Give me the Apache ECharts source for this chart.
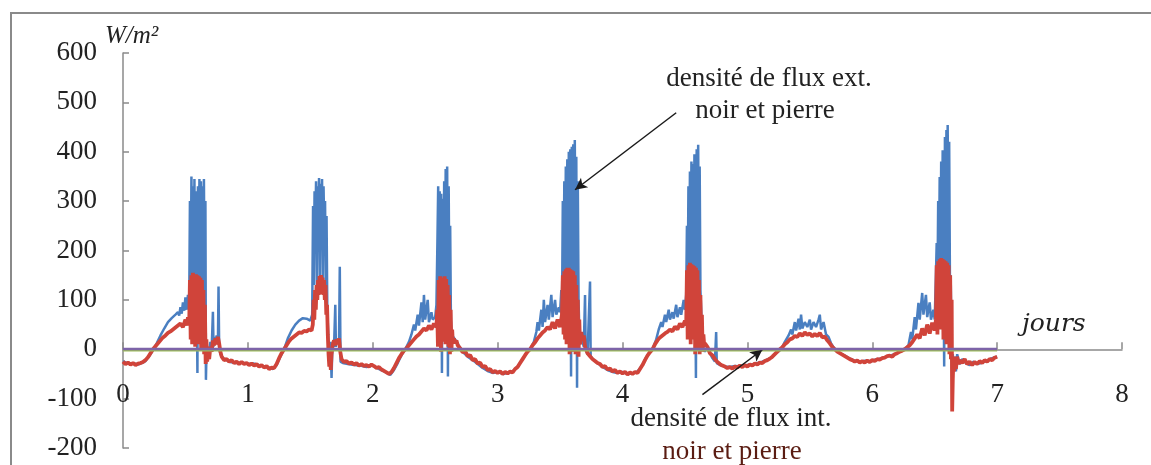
<!DOCTYPE html>
<html>
<head>
<meta charset="utf-8">
<script src="https://cdn.jsdelivr.net/npm/echarts@6/dist/echarts.min.js"></script>
<style>
html,body{margin:0;padding:0;background:#fff;}
#c{width:1151px;height:465px;}
</style>
</head>
<body>
<div id="c"></div>
<script>
// Axis ranges / ticks
const xTicks = [0, 1, 2, 3, 4, 5, 6, 7, 8];
const yTicks = [-200, -100, 0, 100, 200, 300, 400, 500, 600];

// External flux density (blue) [day, W/m²]
const extFlux = [
[0,-24],[0.03,-28],[0.06,-30],[0.09,-29],[0.12,-31],[0.15,-28],[0.18,-24],[0.21,-14],[0.24,-2],[0.27,12],[0.30,28],[0.33,42],[0.36,55],[0.39,63],[0.42,70],[0.44,75],[0.45,68],[0.46,85],[0.47,72],[0.48,95],[0.49,78],[0.50,105],[0.51,80],[0.52,110],[0.53,85],
[0.536,300],[0.542,110],[0.548,350],[0.554,120],[0.560,330],[0.566,100],[0.572,345],[0.578,60],[0.584,320],[0.590,130],[0.596,-48],[0.600,330],[0.606,120],[0.612,345],[0.618,140],[0.624,340],[0.630,110],[0.636,330],[0.642,100],[0.648,345],[0.654,80],[0.660,300],[0.664,-62],[0.670,10],[0.68,-20],[0.69,-5],[0.70,15],[0.71,0],[0.72,76],[0.725,5],[0.73,25],[0.74,15],[0.75,28],[0.76,10],[0.765,127],[0.77,5],[0.78,-10],[0.80,-18],[0.83,-22],[0.86,-26],[0.90,-28],[0.95,-27],[1.00,-30],[1.05,-29],[1.10,-33],[1.15,-36],[1.20,-40],[1.23,-32],[1.26,-15],[1.29,0],
[1.32,22],[1.35,38],[1.38,50],[1.41,58],[1.44,63],[1.47,62],[1.50,58],[1.515,70],
[1.522,290],[1.528,130],[1.534,320],[1.540,240],[1.546,340],[1.552,130],[1.558,330],[1.564,245],[1.570,347],[1.576,135],[1.582,335],[1.588,240],[1.594,345],[1.600,140],[1.606,330],[1.612,230],[1.618,300],[1.624,120],[1.630,270],[1.636,80],[1.642,40],[1.648,-5],[1.655,-30],[1.662,15],[1.67,-58],[1.675,-10],[1.68,10],[1.69,5],[1.70,90],[1.705,5],[1.71,20],[1.72,12],[1.73,18],[1.736,167],[1.742,-25],[1.76,-28],[1.80,-30],[1.85,-32],[1.90,-33],[1.95,-36],[2.00,-33],[2.05,-40],[2.10,-46],[2.14,-52],[2.17,-42],[2.20,-28],[2.23,-12],[2.26,0],
[2.29,15],[2.31,30],[2.33,50],[2.34,38],[2.36,70],[2.37,48],[2.39,95],[2.40,55],[2.41,110],[2.42,60],[2.44,100],[2.45,55],[2.47,75],[2.48,60],[2.50,65],[2.51,90],
[2.518,220],[2.524,330],[2.530,100],[2.536,320],[2.542,110],[2.548,315],[2.554,-48],[2.560,305],[2.566,120],[2.572,340],[2.578,100],[2.584,365],[2.590,130],[2.596,370],[2.602,-55],[2.608,330],[2.614,100],[2.620,250],[2.626,60],[2.632,30],[2.638,20],[2.645,25],[2.66,22],[2.68,12],[2.70,2],[2.73,-8],[2.76,-15],[2.80,-22],[2.84,-30],[2.88,-38],[2.92,-44],[2.96,-48],[3.00,-46],[3.04,-50],[3.08,-48],[3.12,-45],[3.16,-35],[3.20,-20],[3.23,-8],[3.26,0],
[3.29,15],[3.31,35],[3.32,55],[3.33,38],[3.35,80],[3.36,45],[3.37,100],[3.38,55],[3.40,90],[3.41,60],[3.43,110],[3.44,65],[3.46,100],[3.47,70],[3.49,85],[3.50,75],[3.51,120],[3.515,60],
[3.522,300],[3.528,120],[3.534,340],[3.540,130],[3.546,370],[3.552,140],[3.558,385],[3.564,130],[3.570,400],[3.576,150],[3.582,405],[3.588,-55],[3.594,410],[3.600,140],[3.606,415],[3.612,150],[3.618,424],[3.624,140],[3.630,390],[3.636,-78],[3.642,340],[3.648,100],[3.654,40],[3.66,10],[3.67,30],[3.68,15],[3.69,5],[3.70,110],[3.705,0],[3.72,-10],[3.74,137],[3.745,-15],[3.77,-22],[3.80,-28],[3.84,-36],[3.88,-42],[3.92,-46],[3.96,-48],[4.00,-46],[4.04,-50],[4.08,-49],[4.12,-45],[4.16,-32],[4.19,-16],[4.22,-5],[4.24,0],
[4.27,20],[4.29,40],[4.31,55],[4.32,45],[4.34,70],[4.35,55],[4.37,80],[4.38,60],[4.40,75],[4.41,62],[4.43,90],[4.44,65],[4.46,85],[4.47,70],[4.49,100],[4.50,80],[4.51,110],
[4.516,250],[4.522,120],[4.528,330],[4.534,140],[4.540,360],[4.546,150],[4.552,380],[4.558,140],[4.564,375],[4.570,160],[4.576,395],[4.582,150],[4.588,-58],[4.594,405],[4.600,150],[4.606,414],[4.612,140],[4.618,370],[4.624,120],[4.630,120],[4.636,40],[4.642,10],[4.65,0],[4.66,-5],[4.68,5],[4.70,-8],[4.72,-18],[4.74,-25],[4.75,35],[4.755,-28],[4.78,-32],[4.82,-35],[4.86,-36],[4.90,-34],[4.95,-35],[5.00,-32],[5.05,-30],[5.10,-27],[5.15,-22],[5.20,-16],[5.24,-6],[5.27,0],
[5.30,15],[5.33,28],[5.35,40],[5.36,30],[5.38,55],[5.39,38],[5.41,62],[5.42,40],[5.43,70],[5.44,42],[5.46,55],[5.48,45],[5.50,60],[5.51,40],[5.53,55],[5.55,45],[5.57,60],[5.58,70],[5.59,40],[5.61,55],[5.63,30],[5.65,25],[5.67,12],[5.70,0],[5.74,-8],[5.78,-13],[5.82,-19],[5.86,-23],[5.90,-26],[5.94,-23],[5.98,-26],[6.02,-21],[6.06,-19],[6.10,-16],[6.14,-13],[6.18,-10],[6.22,-5],[6.26,0],
[6.29,8],[6.31,35],[6.32,20],[6.34,65],[6.35,40],[6.37,94],[6.38,60],[6.40,114],[6.41,70],[6.43,110],[6.44,65],[6.46,95],[6.47,60],[6.49,80],[6.50,60],[6.51,150],
[6.516,215],[6.522,120],[6.528,300],[6.534,150],[6.540,349],[6.546,160],[6.552,380],[6.558,150],[6.564,403],[6.570,170],[6.576,-35],[6.582,430],[6.588,160],[6.594,444],[6.600,170],[6.604,454],[6.610,150],[6.616,420],[6.622,140],[6.628,150],[6.634,20],[6.64,-60],[6.645,-10],[6.65,-35],[6.66,-15],[6.67,-45],[6.68,-10],[6.70,-30],[6.72,-20],[6.75,-28],[6.78,-32],[6.81,-25],[6.84,-30],[6.87,-28],[6.90,-25],[6.93,-22],[6.96,-18],[7.00,-15]
];

// Internal flux density (red) [day, W/m²]
const intFlux = [
[0,-25],[0.02,-30],[0.04,-27],[0.06,-31],[0.08,-28],[0.10,-32],[0.12,-29],[0.14,-28],[0.16,-26],[0.18,-22],[0.20,-16],[0.22,-8],[0.24,0],[0.26,6],[0.28,12],[0.30,18],[0.32,24],[0.34,28],[0.36,33],[0.38,36],[0.40,40],[0.42,44],[0.44,48],[0.46,52],[0.48,45],[0.50,60],[0.51,48],[0.52,65],[0.53,50],
[0.536,140],[0.542,20],[0.548,150],[0.554,10],[0.560,155],[0.566,30],[0.572,148],[0.578,5],[0.584,152],[0.590,20],[0.596,150],[0.602,10],[0.608,148],[0.614,25],[0.620,145],[0.626,0],[0.632,140],[0.638,15],[0.644,120],[0.650,-10],[0.656,90],[0.662,-30],[0.668,20],[0.674,-25],[0.68,-10],[0.69,-20],[0.70,5],[0.71,-5],[0.72,18],[0.73,8],[0.74,22],[0.75,10],[0.76,25],[0.77,12],[0.78,-5],[0.79,-15],[0.81,-22],[0.83,-20],[0.85,-25],[0.87,-22],[0.89,-28],[0.91,-25],[0.93,-30],[0.95,-26],[0.97,-30],[0.99,-28],[1.01,-32],[1.03,-29],[1.05,-33],[1.07,-30],[1.09,-35],[1.11,-32],[1.13,-37],[1.15,-34],[1.17,-40],[1.19,-37],[1.21,-38],[1.23,-30],[1.25,-18],[1.27,-8],[1.29,0],
[1.31,8],[1.33,16],[1.35,22],[1.37,26],[1.39,30],[1.41,34],[1.43,33],[1.45,37],[1.47,36],[1.49,40],[1.51,38],[1.52,50],
[1.526,100],[1.532,60],[1.538,120],[1.544,80],[1.550,130],[1.556,100],[1.562,140],[1.568,110],[1.574,148],[1.580,112],[1.586,150],[1.592,115],[1.598,145],[1.604,110],[1.610,140],[1.616,100],[1.622,130],[1.628,70],[1.634,90],[1.640,30],[1.646,-10],[1.652,-35],[1.658,-15],[1.664,-42],[1.67,-10],[1.68,10],[1.69,18],[1.70,8],[1.71,20],[1.72,10],[1.73,22],[1.74,-5],[1.75,-20],[1.77,-26],[1.79,-24],[1.81,-29],[1.83,-27],[1.85,-31],[1.87,-28],[1.89,-33],[1.91,-30],[1.93,-34],[1.95,-32],[1.97,-35],[1.99,-31],[2.01,-34],[2.03,-38],[2.05,-36],[2.07,-41],[2.09,-44],[2.11,-47],[2.13,-50],[2.15,-46],[2.17,-38],[2.19,-28],[2.21,-18],[2.23,-10],[2.25,-3],[2.27,2],
[2.29,8],[2.31,14],[2.33,20],[2.35,26],[2.37,30],[2.39,36],[2.41,42],[2.43,38],[2.45,48],[2.47,40],[2.49,52],[2.51,45],
[2.516,80],[2.522,5],[2.528,140],[2.534,20],[2.540,148],[2.546,-5],[2.552,145],[2.558,15],[2.564,140],[2.570,30],[2.576,148],[2.582,10],[2.588,142],[2.594,25],[2.600,130],[2.606,5],[2.612,110],[2.618,-10],[2.624,80],[2.630,-5],[2.636,40],[2.642,12],[2.65,22],[2.66,12],[2.67,18],[2.68,8],[2.70,2],[2.72,-6],[2.74,-4],[2.76,-14],[2.78,-12],[2.80,-22],[2.82,-20],[2.84,-29],[2.86,-27],[2.88,-36],[2.90,-34],[2.92,-42],[2.94,-40],[2.96,-47],[2.98,-44],[3.00,-48],[3.02,-45],[3.04,-50],[3.06,-46],[3.08,-49],[3.10,-45],[3.12,-47],[3.14,-40],[3.16,-36],[3.18,-28],[3.20,-20],[3.22,-12],[3.24,-5],[3.26,0],
[3.28,8],[3.30,14],[3.32,22],[3.34,28],[3.36,34],[3.38,38],[3.40,45],[3.42,40],[3.44,55],[3.46,42],[3.48,60],[3.50,45],[3.515,70],
[3.522,150],[3.528,30],[3.534,158],[3.540,20],[3.546,162],[3.552,10],[3.558,165],[3.564,30],[3.570,165],[3.576,-10],[3.582,162],[3.588,20],[3.594,160],[3.600,-5],[3.606,158],[3.612,15],[3.618,150],[3.624,-10],[3.630,130],[3.636,5],[3.642,100],[3.648,-15],[3.654,60],[3.66,10],[3.67,35],[3.68,18],[3.69,28],[3.70,5],[3.72,-8],[3.74,-14],[3.76,-20],[3.78,-24],[3.80,-28],[3.82,-30],[3.84,-36],[3.86,-34],[3.88,-41],[3.90,-39],[3.92,-45],[3.94,-42],[3.96,-48],[3.98,-45],[4.00,-49],[4.02,-46],[4.04,-51],[4.06,-47],[4.08,-50],[4.10,-46],[4.12,-48],[4.14,-40],[4.16,-32],[4.18,-22],[4.20,-13],[4.22,-6],[4.24,0],
[4.26,10],[4.28,18],[4.30,24],[4.32,28],[4.34,32],[4.36,35],[4.38,40],[4.40,36],[4.42,46],[4.44,40],[4.46,52],[4.48,45],[4.50,58],[4.51,48],
[4.516,160],[4.522,20],[4.528,170],[4.534,30],[4.540,175],[4.546,10],[4.552,172],[4.558,40],[4.564,170],[4.570,20],[4.576,168],[4.582,-10],[4.588,165],[4.594,15],[4.600,160],[4.606,0],[4.612,140],[4.618,-10],[4.624,110],[4.630,10],[4.636,70],[4.642,-5],[4.648,30],[4.655,5],[4.66,12],[4.68,5],[4.70,-8],[4.72,-12],[4.74,-20],[4.76,-26],[4.78,-30],[4.80,-33],[4.82,-35],[4.84,-38],[4.86,-36],[4.88,-39],[4.90,-35],[4.92,-37],[4.94,-33],[4.96,-36],[4.98,-32],[5.00,-35],[5.02,-31],[5.04,-33],[5.06,-29],[5.08,-31],[5.10,-27],[5.12,-28],[5.14,-24],[5.16,-22],[5.18,-19],[5.20,-15],[5.22,-10],[5.24,-5],[5.26,0],
[5.28,4],[5.30,10],[5.32,14],[5.34,20],[5.36,22],[5.38,27],[5.40,25],[5.42,32],[5.44,27],[5.46,34],[5.48,29],[5.50,32],[5.52,26],[5.54,31],[5.56,27],[5.58,33],[5.60,24],[5.62,26],[5.64,18],[5.66,12],[5.68,5],[5.70,0],[5.72,-5],[5.74,-8],[5.76,-11],[5.78,-14],[5.80,-17],[5.82,-20],[5.84,-22],[5.86,-25],[5.88,-23],[5.90,-27],[5.92,-24],[5.94,-27],[5.96,-23],[5.98,-26],[6.00,-22],[6.02,-24],[6.04,-20],[6.06,-21],[6.08,-18],[6.10,-17],[6.12,-14],[6.14,-13],[6.16,-15],[6.18,-10],[6.20,-8],[6.22,-5],[6.24,-3],[6.26,0],
[6.28,4],[6.30,8],[6.32,14],[6.34,22],[6.36,30],[6.38,22],[6.40,42],[6.42,28],[6.44,50],[6.46,32],[6.48,54],[6.50,38],[6.51,60],
[6.516,170],[6.522,30],[6.528,178],[6.534,50],[6.540,182],[6.546,40],[6.552,185],[6.558,60],[6.564,183],[6.570,20],[6.576,180],[6.582,40],[6.588,178],[6.594,10],[6.600,175],[6.606,30],[6.612,170],[6.618,-10],[6.624,150],[6.630,-20],[6.636,100],[6.640,-126],[6.645,-60],[6.65,-20],[6.655,-45],[6.66,-15],[6.67,-40],[6.68,-15],[6.69,-30],[6.70,-22],[6.72,-28],[6.74,-20],[6.76,-30],[6.78,-25],[6.80,-32],[6.82,-26],[6.84,-30],[6.86,-24],[6.88,-28],[6.90,-22],[6.92,-25],[6.94,-20],[6.96,-22],[6.98,-17],[7.00,-15]
];

// Near-zero flux series (green, purple)
const greenFlux = [[0,-2.5],[7,-2.5]];
const purpleFlux = [[0,0.5],[7,0.5]];

// Annotation arrows [start, end] in data units (day, W/m²)
const arrowExt = [[4.43,479],[3.62,323]];
const arrowInt = [[4.64,-92],[5.12,-1]];

const serif = '"Liberation Serif", "Times New Roman", serif';
const chart = echarts.init(document.getElementById('c'), null, {renderer:'canvas'});

function arrowMark(a){
  return {
    silent:true, symbol:['none','arrow'], symbolSize:[9,12], label:{show:false},
    lineStyle:{color:'#1a1a1a', width:1.5, type:'solid'},
    data:[[{coord:a[0]},{coord:a[1]}]]
  };
}

chart.setOption({
  animation:false,
  backgroundColor:'#fff',
  grid:[
    {left:123, right:29, top:53, bottom:17, containLabel:false, outerBoundsMode:'none'},
    {left:123, right:29, top:53, bottom:115, containLabel:false, outerBoundsMode:'none'}
  ],
  xAxis:[
    {
      type:'value', gridIndex:0, min:xTicks[0], max:xTicks[xTicks.length-1], interval:1,
      axisLine:{show:true, onZero:true, lineStyle:{color:'#8a8a8a', width:1.5}},
      axisTick:{show:true, inside:true, length:7, lineStyle:{color:'#8a8a8a', width:1.5}},
      axisLabel:{show:false},
      splitLine:{show:false}
    },
    {
      type:'value', gridIndex:1, min:xTicks[0], max:xTicks[xTicks.length-1], interval:1,
      axisLine:{show:false, onZero:false}, axisTick:{show:false},
      axisLabel:{show:true, margin:31, fontFamily:serif, fontSize:27, color:'#222'},
      splitLine:{show:false}
    }
  ],
  yAxis:[
    {
      type:'value', gridIndex:0, min:yTicks[0], max:yTicks[yTicks.length-1], interval:100,
      axisLine:{show:true, onZero:false, lineStyle:{color:'#8a8a8a', width:1.5}},
      axisTick:{show:true, inside:true, length:6, lineStyle:{color:'#8a8a8a', width:1.5}},
      axisLabel:{show:true, margin:26, fontFamily:serif, fontSize:27, color:'#222'},
      splitLine:{show:false}
    },
    {
      type:'value', gridIndex:1, min:0, max:1, show:false
    }
  ],
  series:[
    {name:'ext', type:'line', data:extFlux, showSymbol:false, symbol:'none',
     lineStyle:{color:'#4a7fc1', width:2.5}, z:2, markLine:arrowMark(arrowExt)},
    {name:'int', type:'line', data:intFlux, showSymbol:false, symbol:'none',
     lineStyle:{color:'#d0443a', width:3.8}, z:3, markLine:arrowMark(arrowInt)},
    {name:'green', type:'line', data:greenFlux, showSymbol:false, symbol:'none',
     lineStyle:{color:'#9bbb59', width:2}, z:4},
    {name:'purple', type:'line', data:purpleFlux, showSymbol:false, symbol:'none',
     lineStyle:{color:'#7d64a8', width:2.5}, z:5}
  ],
  graphic:[
    {type:'rect', shape:{x:11, y:13, width:1300, height:600}, style:{fill:null, stroke:'#8a8a8a', lineWidth:2}, silent:true, z:-1},
    {type:'text', left:105, top:24, style:{text:'W/m²', font:'italic 25px '+serif, fill:'#222'}},
    {type:'text', left:1022, top:312, style:{text:'jours', font:'italic 25px "DejaVu Serif", serif', fill:'#222'}},
    {type:'text', x:769, y:79, style:{text:'densité de flux ext.', font:'27px '+serif, fill:'#222', align:'center', verticalAlign:'middle'}},
    {type:'text', x:765, y:111, style:{text:'noir et pierre', font:'27px '+serif, fill:'#222', align:'center', verticalAlign:'middle'}},
    {type:'text', x:731, y:419, style:{text:'densité de flux int.', font:'27px '+serif, fill:'#222', align:'center', verticalAlign:'middle'}},
    {type:'text', x:732, y:452, style:{text:'noir et pierre', font:'27px '+serif, fill:'#5a1c12', align:'center', verticalAlign:'middle'}}
  ]
});
</script>
</body>
</html>
